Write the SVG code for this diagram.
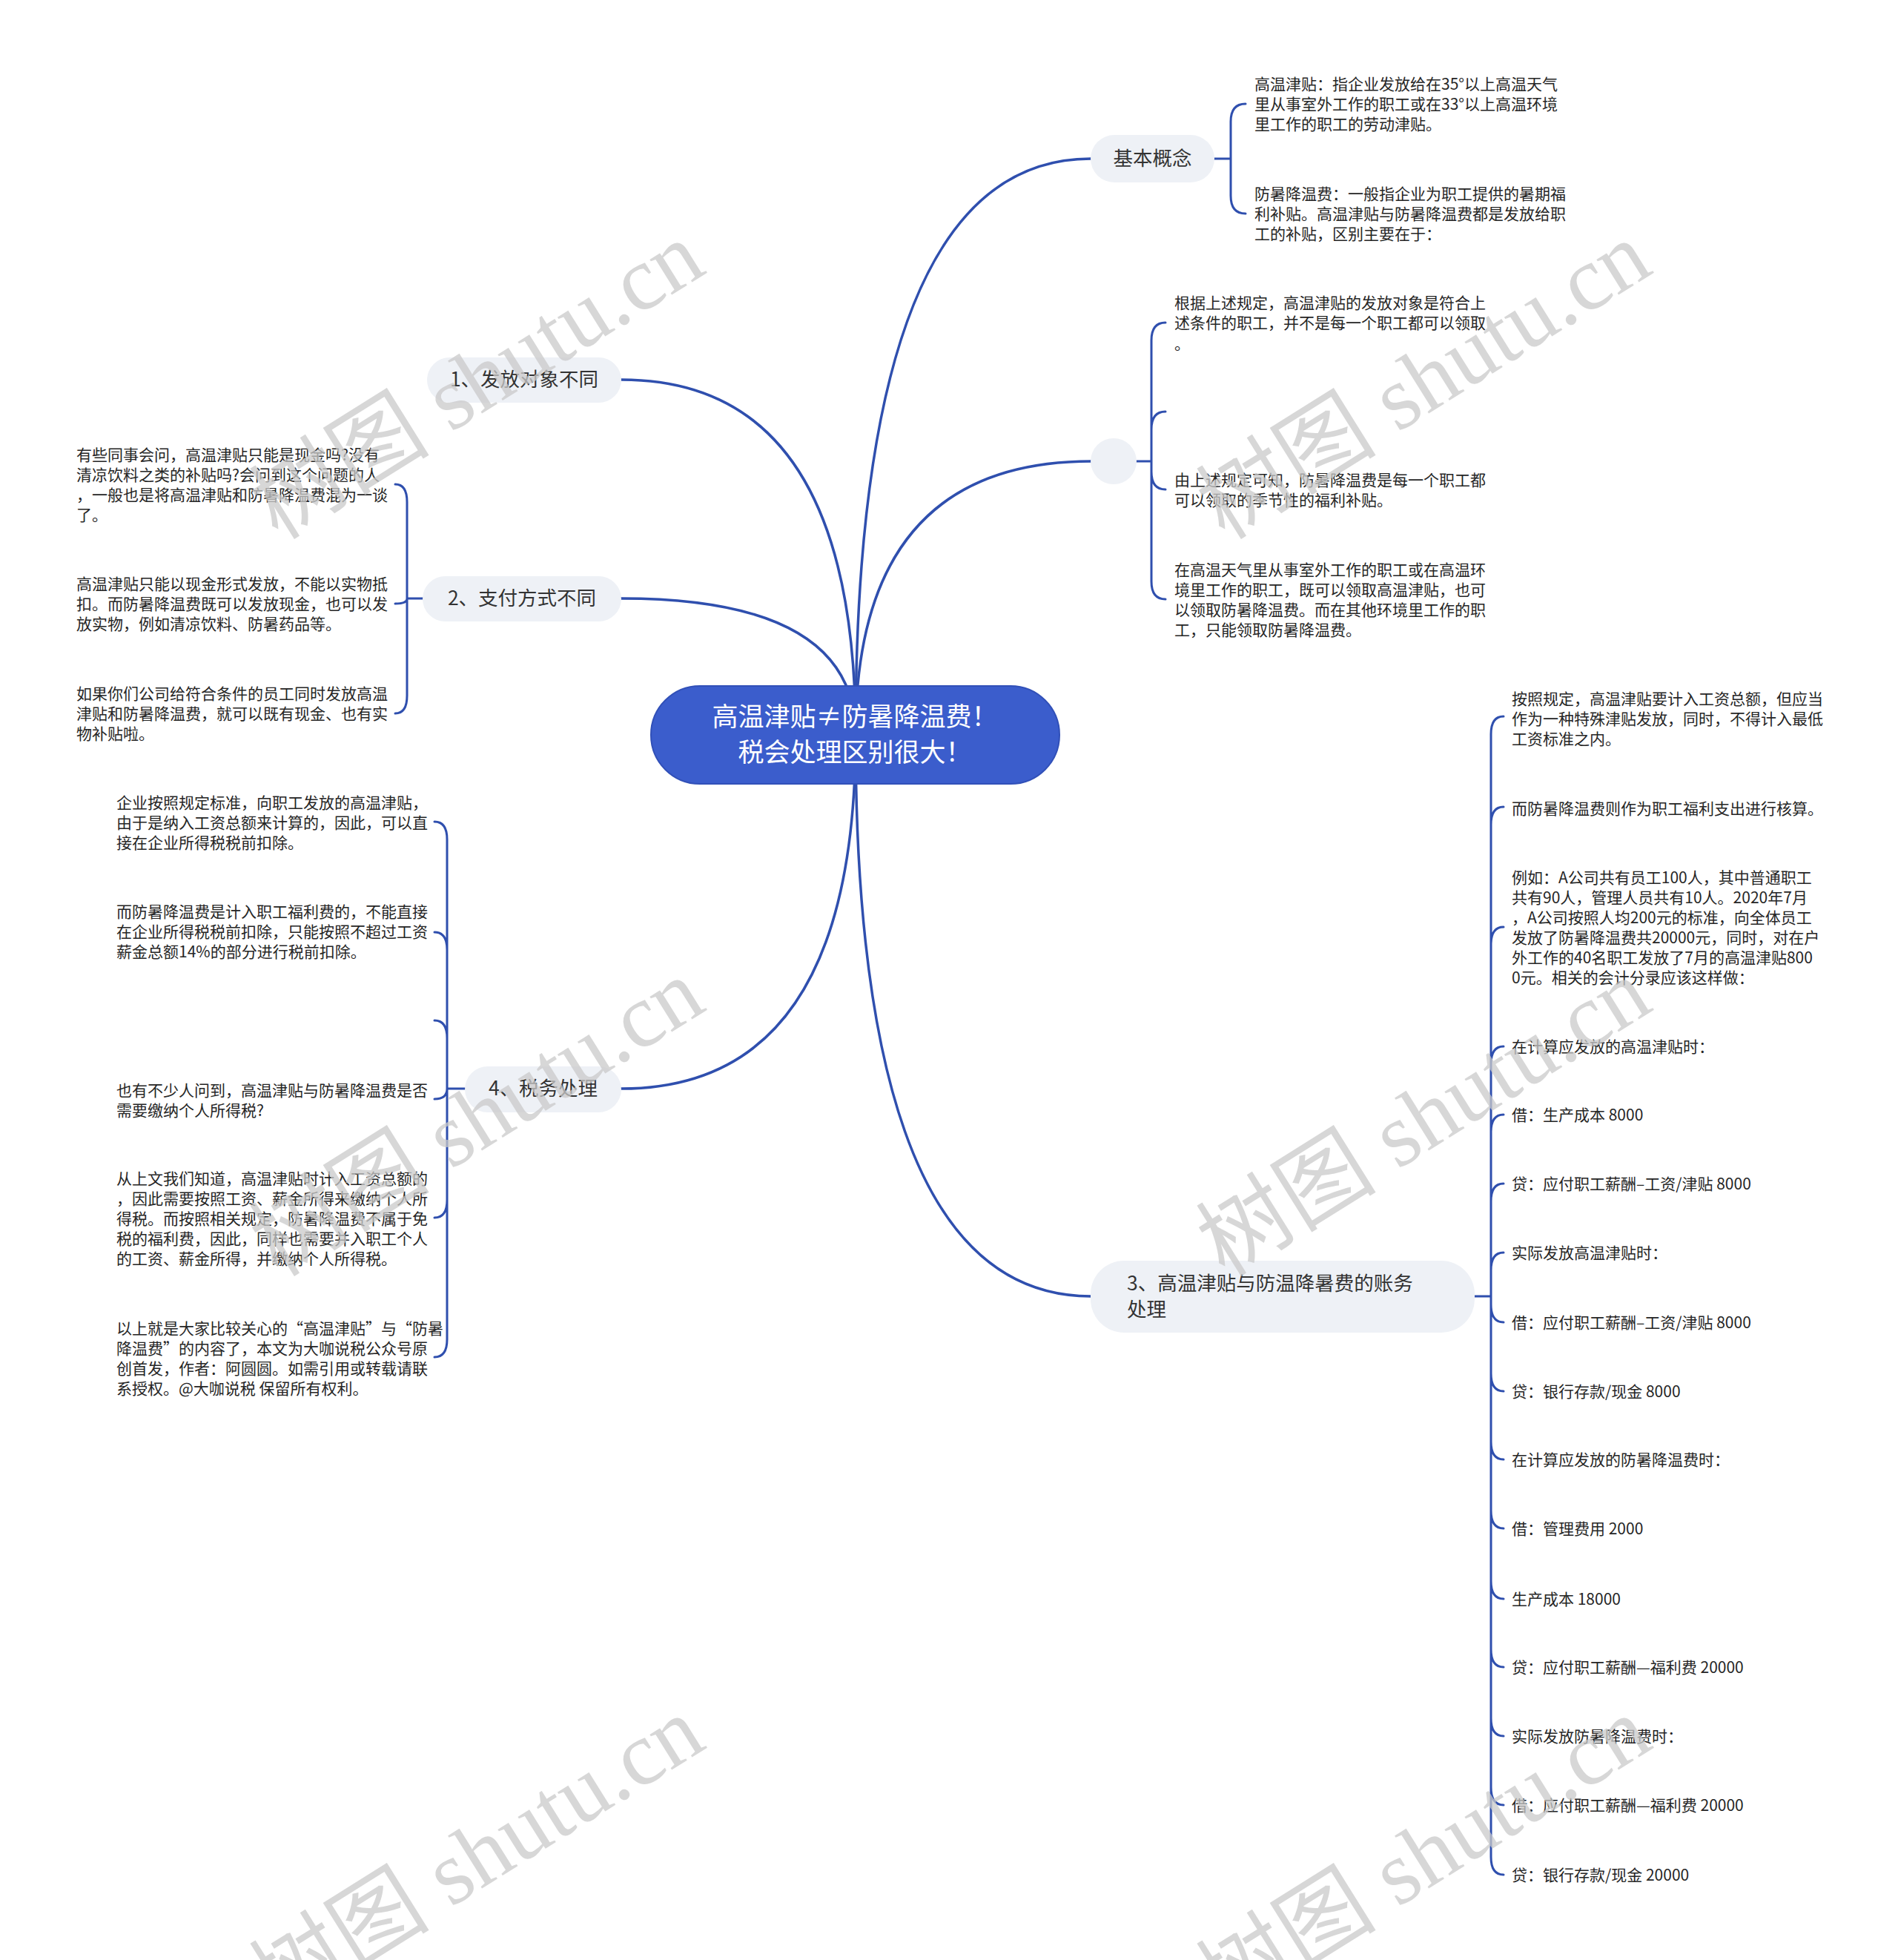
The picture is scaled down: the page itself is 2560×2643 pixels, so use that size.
<svg xmlns="http://www.w3.org/2000/svg" width="2560" height="2643" viewBox="0 0 2560 2643">
<style>
.c{fill:none;stroke:#2f4fae;stroke-width:3.5;stroke-linecap:round}
.s{fill:none;stroke:#2f4fae;stroke-width:3;stroke-linecap:round}
.t{font-family:"Noto Sans CJK SC","Noto Sans",sans-serif;font-size:21px;fill:#262626}
.b{font-family:"Noto Sans CJK SC","Noto Sans",sans-serif;font-size:26.5px;fill:#333333}
.n{fill:#eef1f6}
.r{font-family:"Noto Sans CJK SC",sans-serif;font-size:35px;fill:#ffffff}
.wm{font-family:"Liberation Serif","Noto Sans CJK SC",serif;font-size:122px;fill:#cacaca;opacity:0.75}
</style>
<rect width="2560" height="2643" fill="#ffffff"/>
<g id="connectors">
<path class="c" d="M1154,991 Q1154,214 1471,214"/>
<path class="c" d="M1154,991 Q1154,622 1472,622"/>
<path class="c" d="M1154,991 Q1154,1748 1471,1748"/>
<path class="c" d="M1154,991 Q1154,512 838,512"/>
<path class="c" d="M1154,991 Q1154,807 838,807"/>
<path class="c" d="M1154,991 Q1154,1468 838,1468"/>
<path class="s" d="M1638,214 H1660 M1660,214 V164 Q1660,140 1680,140 M1660,214 V264 Q1660,288 1680,288"/>
<path class="s" d="M1533,622 H1553 M1553,622 V459 Q1553,435 1572,435 M1553,622 V579 Q1553,555 1572,555 M1553,622 V636 Q1553,660 1572,660 M1553,622 V784 Q1553,808 1572,808"/>
<path class="s" d="M570,807 H549 M549,807 V677 Q549,653 533,653 M549,807 Q549,814 533,814 M549,807 V938 Q549,962 533,962"/>
<path class="s" d="M627,1468 H603 M603,1468 V1132 Q603,1108 586,1108 M603,1468 V1281 Q603,1257 586,1257 M603,1468 V1400 Q603,1376 586,1376 M603,1468 Q603,1482 586,1482 M603,1468 V1618 Q603,1642 586,1642 M603,1468 V1806 Q603,1830 586,1830"/>
<path class="s" d="M1989,1748 H2011 M2011,1748 V990 Q2011,966 2028,966 M2011,1748 V1112 Q2011,1088 2028,1088 M2011,1748 V1274 Q2011,1250 2028,1250 M2011,1748 V1435 Q2011,1411 2028,1411 M2011,1748 V1527 Q2011,1503 2028,1503 M2011,1748 V1620 Q2011,1596 2028,1596 M2011,1748 V1713 Q2011,1689 2028,1689 M2011,1748 V1759 Q2011,1783 2028,1783 M2011,1748 V1852 Q2011,1876 2028,1876 M2011,1748 V1944 Q2011,1968 2028,1968 M2011,1748 V2037 Q2011,2061 2028,2061 M2011,1748 V2132 Q2011,2156 2028,2156 M2011,1748 V2224 Q2011,2248 2028,2248 M2011,1748 V2317 Q2011,2341 2028,2341 M2011,1748 V2410 Q2011,2434 2028,2434 M2011,1748 V2504 Q2011,2528 2028,2528"/>
</g>
<g id="root">
<rect x="878" y="925" width="551" height="132" rx="66" fill="#3b5dcc" stroke="#3150b8" stroke-width="2"/>
<text class="r" x="1153" y="979" text-anchor="middle">高温津贴≠防暑降温费！</text>
<text class="r" x="1153" y="1027" text-anchor="middle">税会处理区别很大！</text>
</g>
<g id="n-basic">
<rect class="n" x="1471" y="182" width="167" height="64" rx="32"/>
<text class="b" x="1554.5" y="223" text-anchor="middle">基本概念</text>
</g>
<g id="n-empty">
<circle class="n" cx="1502" cy="622" r="31"/>
</g>
<g id="n-1">
<rect class="n" x="576" y="482" width="262" height="61" rx="30.5"/>
<text class="b" x="707" y="521" text-anchor="middle">1、发放对象不同</text>
</g>
<g id="n-2">
<rect class="n" x="570" y="777" width="268" height="61" rx="30.5"/>
<text class="b" x="704" y="816" text-anchor="middle">2、支付方式不同</text>
</g>
<g id="n-4">
<rect class="n" x="627" y="1438" width="211" height="62" rx="31"/>
<text class="b" x="732.5" y="1477" text-anchor="middle">4、税务处理</text>
</g>
<g id="n-3">
<rect class="n" x="1471" y="1700" width="518" height="97" rx="45"/>
<text class="b" x="1520" y="1740">3、高温津贴与防温降暑费的账务</text>
<text class="b" x="1520" y="1775">处理</text>
</g>
<g id="a1"><text class="t" x="1692" y="121">高温津贴：指企业发放给在35°以上高温天气<tspan x="1692" dy="27">里从事室外工作的职工或在33°以上高温环境</tspan><tspan x="1692" dy="27">里工作的职工的劳动津贴。</tspan></text></g>
<g id="a2"><text class="t" x="1692" y="269">防暑降温费：一般指企业为职工提供的暑期福<tspan x="1692" dy="27">利补贴。高温津贴与防暑降温费都是发放给职</tspan><tspan x="1692" dy="27">工的补贴，区别主要在于：</tspan></text></g>
<g id="b1"><text class="t" x="1584" y="416">根据上述规定，高温津贴的发放对象是符合上<tspan x="1584" dy="27">述条件的职工，并不是每一个职工都可以领取</tspan><tspan x="1584" dy="28">。</tspan></text></g>
<g id="b2"></g>
<g id="b3"><text class="t" x="1584" y="655">由上述规定可知，防暑降温费是每一个职工都<tspan x="1584" dy="27">可以领取的季节性的福利补贴。</tspan></text></g>
<g id="b4"><text class="t" x="1584" y="776">在高温天气里从事室外工作的职工或在高温环<tspan x="1584" dy="27">境里工作的职工，既可以领取高温津贴，也可</tspan><tspan x="1584" dy="27">以领取防暑降温费。而在其他环境里工作的职</tspan><tspan x="1584" dy="27">工，只能领取防暑降温费。</tspan></text></g>
<g id="c1"><text class="t" x="103" y="621">有些同事会问，高温津贴只能是现金吗?没有<tspan x="103" dy="27">清凉饮料之类的补贴吗?会问到这个问题的人</tspan><tspan x="103" dy="27">，一般也是将高温津贴和防暑降温费混为一谈</tspan><tspan x="103" dy="27">了。</tspan></text></g>
<g id="c2"><text class="t" x="103" y="795">高温津贴只能以现金形式发放，不能以实物抵<tspan x="103" dy="27">扣。而防暑降温费既可以发放现金，也可以发</tspan><tspan x="103" dy="27">放实物，例如清凉饮料、防暑药品等。</tspan></text></g>
<g id="c3"><text class="t" x="103" y="943">如果你们公司给符合条件的员工同时发放高温<tspan x="103" dy="27">津贴和防暑降温费，就可以既有现金、也有实</tspan><tspan x="103" dy="27">物补贴啦。</tspan></text></g>
<g id="d1"><text class="t" x="157" y="1090">企业按照规定标准，向职工发放的高温津贴，<tspan x="157" dy="27">由于是纳入工资总额来计算的，因此，可以直</tspan><tspan x="157" dy="27">接在企业所得税税前扣除。</tspan></text></g>
<g id="d2"><text class="t" x="157" y="1237">而防暑降温费是计入职工福利费的，不能直接<tspan x="157" dy="27">在企业所得税税前扣除，只能按照不超过工资</tspan><tspan x="157" dy="27">薪金总额14%的部分进行税前扣除。</tspan></text></g>
<g id="d3"></g>
<g id="d4"><text class="t" x="157" y="1478">也有不少人问到，高温津贴与防暑降温费是否<tspan x="157" dy="27">需要缴纳个人所得税?</tspan></text></g>
<g id="d5"><text class="t" x="157" y="1597">从上文我们知道，高温津贴时计入工资总额的<tspan x="157" dy="27">，因此需要按照工资、薪金所得来缴纳个人所</tspan><tspan x="157" dy="27">得税。而按照相关规定，防暑降温费不属于免</tspan><tspan x="157" dy="27">税的福利费，因此，同样也需要并入职工个人</tspan><tspan x="157" dy="27">的工资、薪金所得，并缴纳个人所得税。</tspan></text></g>
<g id="d6"><text class="t" x="157" y="1799">以上就是大家比较关心的“高温津贴”与“防暑<tspan x="157" dy="27">降温费”的内容了，本文为大咖说税公众号原</tspan><tspan x="157" dy="27">创首发，作者：阿圆圆。如需引用或转载请联</tspan><tspan x="157" dy="27">系授权。@大咖说税 保留所有权利。</tspan></text></g>
<g id="e1"><text class="t" x="2039" y="950">按照规定，高温津贴要计入工资总额，但应当<tspan x="2039" dy="27">作为一种特殊津贴发放，同时，不得计入最低</tspan><tspan x="2039" dy="27">工资标准之内。</tspan></text></g>
<g id="e2"><text class="t" x="2039" y="1098">而防暑降温费则作为职工福利支出进行核算。</text></g>
<g id="e3"><text class="t" x="2039" y="1191">例如：A公司共有员工100人，其中普通职工<tspan x="2039" dy="27">共有90人，管理人员共有10人。2020年7月</tspan><tspan x="2039" dy="27">，A公司按照人均200元的标准，向全体员工</tspan><tspan x="2039" dy="27">发放了防暑降温费共20000元，同时，对在户</tspan><tspan x="2039" dy="27">外工作的40名职工发放了7月的高温津贴800</tspan><tspan x="2039" dy="27">0元。相关的会计分录应该这样做：</tspan></text></g>
<g id="e4"><text class="t" x="2039" y="1419">在计算应发放的高温津贴时：</text></g>
<g id="e5"><text class="t" x="2039" y="1511">借：生产成本 8000</text></g>
<g id="e6"><text class="t" x="2039" y="1604">贷：应付职工薪酬–工资/津贴 8000</text></g>
<g id="e7"><text class="t" x="2039" y="1697">实际发放高温津贴时：</text></g>
<g id="e8"><text class="t" x="2039" y="1791">借：应付职工薪酬–工资/津贴 8000</text></g>
<g id="e9"><text class="t" x="2039" y="1884">贷：银行存款/现金 8000</text></g>
<g id="e10"><text class="t" x="2039" y="1976">在计算应发放的防暑降温费时：</text></g>
<g id="e11"><text class="t" x="2039" y="2069">借：管理费用 2000</text></g>
<g id="e12"><text class="t" x="2039" y="2164">生产成本 18000</text></g>
<g id="e13"><text class="t" x="2039" y="2256">贷：应付职工薪酬—福利费 20000</text></g>
<g id="e14"><text class="t" x="2039" y="2349">实际发放防暑降温费时：</text></g>
<g id="e15"><text class="t" x="2039" y="2442">借：应付职工薪酬—福利费 20000</text></g>
<g id="e16"><text class="t" x="2039" y="2536">贷：银行存款/现金 20000</text></g>
<g id="watermarks">
<text class="wm" transform="translate(644,514) rotate(-32)" x="0" y="40" text-anchor="middle">树图 shutu.cn</text>
<text class="wm" transform="translate(1921,514) rotate(-32)" x="0" y="40" text-anchor="middle">树图 shutu.cn</text>
<text class="wm" transform="translate(644,1508) rotate(-32)" x="0" y="40" text-anchor="middle">树图 shutu.cn</text>
<text class="wm" transform="translate(1921,1508) rotate(-32)" x="0" y="40" text-anchor="middle">树图 shutu.cn</text>
<text class="wm" transform="translate(644,2503) rotate(-32)" x="0" y="40" text-anchor="middle">树图 shutu.cn</text>
<text class="wm" transform="translate(1921,2503) rotate(-32)" x="0" y="40" text-anchor="middle">树图 shutu.cn</text>
</g>
</svg>
